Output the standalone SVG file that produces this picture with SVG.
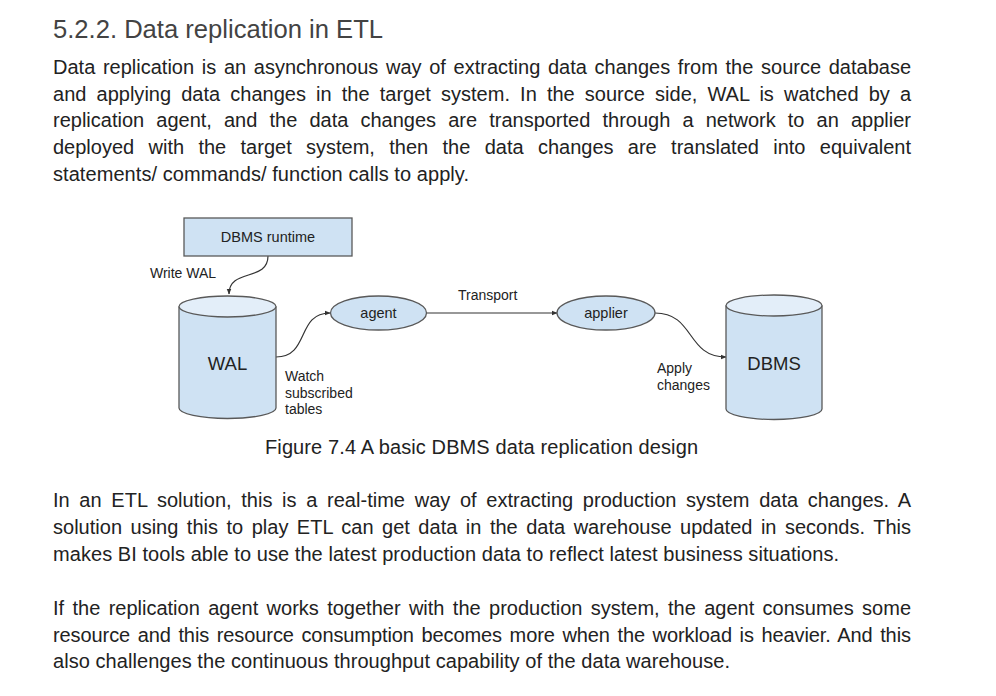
<svg xmlns="http://www.w3.org/2000/svg" width="996" height="696" viewBox="0 0 996 696">
<style>
.h{font-family:"Liberation Sans",Arial,sans-serif;font-size:25.6px;fill:#434343}
.p{font-family:"Liberation Sans",Arial,sans-serif;font-size:20px;fill:#222222}
.lbl{font-family:"Liberation Sans",Arial,sans-serif;font-size:14px;fill:#222222}
.nl{font-family:"Liberation Sans",Arial,sans-serif;font-size:14.5px;fill:#222222;text-anchor:middle}
.big{font-family:"Liberation Sans",Arial,sans-serif;font-size:18.5px;fill:#222222;text-anchor:middle}
.shape{fill:#cfe2f3;stroke:#595959;stroke-width:1.3}
.top{fill:#e3eef9;stroke:#595959;stroke-width:1.3}
.conn{fill:none;stroke:#333333;stroke-width:1.2;marker-end:url(#arr)}
</style>
<defs>
<marker id="arr" viewBox="0 0 10 10" refX="9" refY="5" markerWidth="6" markerHeight="6" orient="auto" markerUnits="userSpaceOnUse">
<path d="M0,1 L10,5 L0,9 z" fill="#333333"/>
</marker>
</defs>
<rect width="996" height="696" fill="#ffffff"/>
<text class="h" x="53" y="38" textLength="330" lengthAdjust="spacingAndGlyphs">5.2.2. Data replication in ETL</text>
<g id="para1">
<text class="p" x="53" y="74" word-spacing="2.12" textLength="858" lengthAdjust="spacing">Data replication is an asynchronous way of extracting data changes from the source database</text>
<text class="p" x="53" y="101" word-spacing="4.5" textLength="858" lengthAdjust="spacing">and applying data changes in the target system. In the source side, WAL is watched by a</text>
<text class="p" x="53" y="127" word-spacing="6.56" textLength="858" lengthAdjust="spacing">replication agent, and the data changes are transported through a network to an applier</text>
<text class="p" x="53" y="154" word-spacing="8.78" textLength="858" lengthAdjust="spacing">deployed with the target system, then the data changes are translated into equivalent</text>
<text class="p" x="53" y="181" textLength="416" lengthAdjust="spacing">statements/ commands/ function calls to apply.</text>
</g>
<g id="connectors">
<path class="conn" d="M268,256 C268,282 229,268 229,294"/>
<path class="conn" d="M276,357 C310,357 296,313 330,313"/>
<path class="conn" d="M427,313 L557,313"/>
<path class="conn" d="M655,313 C695,313 686,357 726,357"/>
</g>
<g id="dbms-runtime">
<rect class="shape" x="184" y="218" width="168" height="38"/>
<text class="nl" x="268" y="242">DBMS runtime</text>
</g>
<g id="wal">
<path class="shape" d="M179,306.5 L179,408 A48.5,10.5 0 0 0 276,408 L276,306.5"/>
<ellipse class="top" cx="227.5" cy="306.5" rx="48.5" ry="10.5"/>
<text class="big" x="227.5" y="370">WAL</text>
</g>
<g id="agent">
<ellipse class="shape" cx="378.5" cy="313" rx="48" ry="17"/>
<text class="nl" x="378.5" y="318">agent</text>
</g>
<g id="applier">
<ellipse class="shape" cx="606" cy="313" rx="49" ry="17"/>
<text class="nl" x="606" y="318">applier</text>
</g>
<g id="dbms">
<path class="shape" d="M726,305.5 L726,409 A48,10.5 0 0 0 822,409 L822,305.5"/>
<ellipse class="top" cx="774" cy="305.5" rx="48" ry="10.5"/>
<text class="big" x="774" y="370">DBMS</text>
</g>
<g id="labels">
<text class="lbl" x="150" y="278">Write WAL</text>
<text class="lbl" x="458" y="300">Transport</text>
<text class="lbl" x="285" y="381">Watch</text>
<text class="lbl" x="285" y="398">subscribed</text>
<text class="lbl" x="285" y="414">tables</text>
<text class="lbl" x="657" y="373">Apply</text>
<text class="lbl" x="657" y="390">changes</text>
</g>
<text class="p" x="265" y="454" textLength="433" lengthAdjust="spacing">Figure 7.4 A basic DBMS data replication design</text>
<g id="para2">
<text class="p" x="53" y="507" word-spacing="4.07" textLength="858" lengthAdjust="spacing">In an ETL solution, this is a real-time way of extracting production system data changes. A</text>
<text class="p" x="53" y="534" word-spacing="2.9" textLength="858" lengthAdjust="spacing">solution using this to play ETL can get data in the data warehouse updated in seconds. This</text>
<text class="p" x="53" y="561" textLength="786" lengthAdjust="spacing">makes BI tools able to use the latest production data to reflect latest business situations.</text>
</g>
<g id="para3">
<text class="p" x="53" y="615" word-spacing="2.81" textLength="858" lengthAdjust="spacing">If the replication agent works together with the production system, the agent consumes some</text>
<text class="p" x="53" y="642" word-spacing="2.13" textLength="858" lengthAdjust="spacing">resource and this resource consumption becomes more when the workload is heavier. And this</text>
<text class="p" x="53" y="668" textLength="677" lengthAdjust="spacing">also challenges the continuous throughput capability of the data warehouse.</text>
</g>
</svg>
